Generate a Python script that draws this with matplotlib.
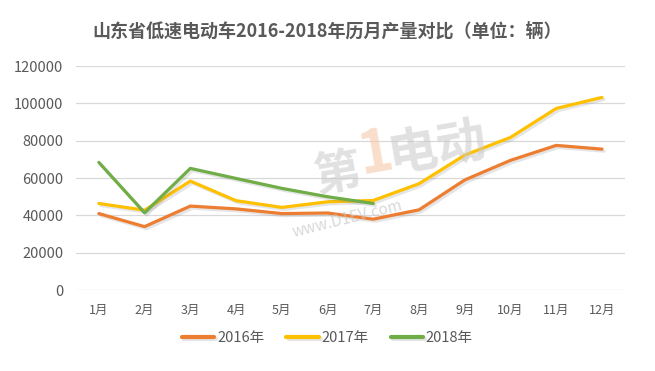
import matplotlib
matplotlib.use("Agg")
import matplotlib.pyplot as plt
import matplotlib.patheffects as pe

plt.rcParams['font.family'] = ['Noto Sans CJK SC', 'DejaVu Sans']

months = ['1月', '2月', '3月', '4月', '5月', '6月', '7月', '8月', '9月', '10月', '11月', '12月']
y2016 = [41000, 34000, 45000, 43500, 41000, 41300, 38000, 43000, 59000, 69500, 77500, 75500]
y2017 = [46400, 42800, 58400, 47900, 44300, 47300, 48000, 57000, 72300, 81800, 97300, 103200]
y2018 = [68400, 41400, 65200, 59800, 54500, 50000, 46400]
yticks = [0, 20000, 40000, 60000, 80000, 100000, 120000]

fig = plt.figure(figsize=(6.55, 3.71), dpi=100)
ax = fig.add_axes([0.116, 0.218, 0.838, 0.604])

# faint site watermark behind the lines
fig.text(0.515, 0.53, '第', fontsize=34, fontweight='bold', color='#c8c8c8', alpha=0.55,
         rotation=10, ha='center', va='center', zorder=0)
fig.text(0.573, 0.585, '1', fontsize=42, fontweight='bold', color='#f6c9a8', alpha=0.6,
         rotation=10, ha='center', va='center', zorder=0)
fig.text(0.667, 0.60, '电动', fontsize=36, fontweight='bold', color='#c8c8c8', alpha=0.55,
         rotation=10, ha='center', va='center', zorder=0)
fig.text(0.53, 0.41, 'www.D1EV.com', fontsize=11, style='italic', color='#c8c8c8', alpha=0.7,
         rotation=14, ha='center', va='center', zorder=0)
ax.patch.set_alpha(0)

shadow = [pe.SimpleLineShadow(offset=(1.5, -1.5), alpha=0.2, shadow_color='gray'), pe.Normal()]
x = list(range(len(months)))
ax.plot(x, y2016, color='#ED7D31', lw=2.3, label='2016年', path_effects=shadow, solid_capstyle='round')
ax.plot(x, y2017, color='#FFC000', lw=2.3, label='2017年', path_effects=shadow, solid_capstyle='round')
ax.plot(x[:len(y2018)], y2018, color='#70AD47', lw=2.3, label='2018年', path_effects=shadow, solid_capstyle='round')

ax.set_xlim(-0.5, 11.5)
ax.set_ylim(0, 120000)
ax.set_yticks(yticks)
ax.set_yticklabels([str(v) for v in yticks])
ax.set_xticks(x)
ax.set_xticklabels(months)
ax.grid(axis='y', color='#D9D9D9', lw=0.9)
ax.set_axisbelow(True)
for s in ax.spines.values():
    s.set_visible(False)
ax.tick_params(length=0, colors='#595959')
ax.tick_params(axis='x', pad=10, labelsize=9)
ax.tick_params(axis='y', pad=9, labelsize=10.5)

fig.text(0.5, 0.915, '山东省低速电动车2016-2018年历月产量对比（单位：辆）', ha='center', va='center',
         fontsize=13, fontweight='bold', color='#595959')

fig.legend(loc='center', bbox_to_anchor=(0.5, 0.09), ncol=3, frameon=False, fontsize=10.5,
           labelcolor='#595959', handlelength=2.2, handletextpad=0.2, columnspacing=1.5)
for line in fig.legends[0].get_lines():
    line.set_linewidth(3)

fig.savefig('out.png', dpi=100, facecolor='white')
